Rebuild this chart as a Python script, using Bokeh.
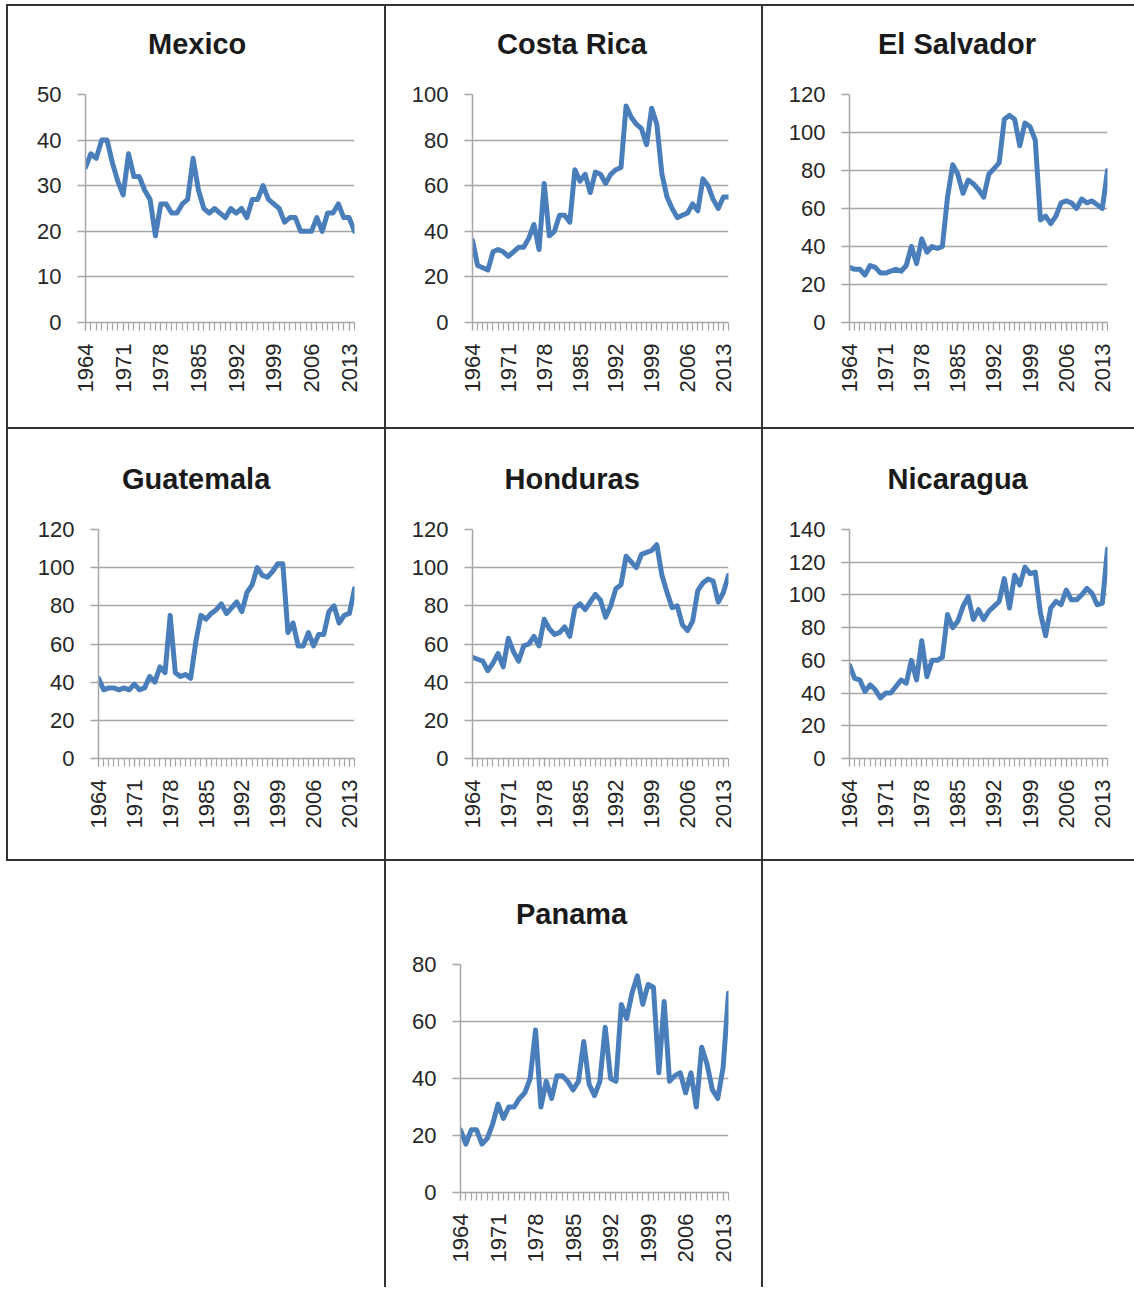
import math
from bokeh.plotting import figure
from bokeh.models import Range1d, FixedTicker, Spacer, Title
from bokeh.layouts import row, column
from bokeh.embed import file_html
from bokeh.resources import INLINE

# ---------------- data ----------------
years = list(range(1964, 2015))
year_labels = [1964, 1971, 1978, 1985, 1992, 1999, 2006, 2013]

mexico = [34, 37, 36, 40, 40, 35, 31, 28, 37, 32, 32, 29, 27, 19, 26, 26, 24, 24, 26, 27,
          36, 29, 25, 24, 25, 24, 23, 25, 24, 25, 23, 27, 27, 30, 27, 26, 25, 22, 23, 23,
          20, 20, 20, 23, 20, 24, 24, 26, 23, 23, 20]
costa_rica = [36, 25, 24, 23, 31, 32, 31, 29, 31, 33, 33, 37, 43, 32, 61, 38, 40, 47, 47, 44,
              67, 62, 65, 57, 66, 65, 61, 65, 67, 68, 95, 90, 87, 85, 78, 94, 87, 65, 55, 50,
              46, 47, 48, 52, 49, 63, 60, 54, 50, 55, 55]
el_salvador = [29, 28, 28, 25, 30, 29, 26, 26, 27, 28, 27, 30, 40, 31, 44, 37, 40, 39, 40, 66,
               83, 78, 68, 75, 73, 70, 66, 78, 81, 84, 107, 109, 107, 93, 105, 103, 96, 54, 56, 52,
               56, 63, 64, 63, 60, 65, 63, 64, 62, 60, 80]
guatemala = [42, 36, 37, 37, 36, 37, 36, 39, 36, 37, 43, 40, 48, 45, 75, 45, 43, 44, 42, 61,
             75, 73, 76, 78, 81, 76, 79, 82, 77, 87, 91, 100, 96, 95, 98, 102, 102, 66, 71, 59,
             59, 66, 59, 65, 65, 77, 80, 71, 75, 76, 89]
honduras = [53, 52, 51, 46, 50, 55, 48, 63, 56, 51, 59, 60, 64, 59, 73, 68, 65, 66, 69, 64,
            79, 81, 78, 82, 86, 83, 74, 80, 89, 91, 106, 103, 100, 107, 108, 109, 112, 96, 87, 79,
            80, 70, 67, 72, 88, 92, 94, 93, 82, 87, 96]
nicaragua = [57, 49, 48, 41, 45, 42, 37, 40, 40, 44, 48, 46, 60, 48, 72, 50, 60, 60, 62, 88,
             80, 84, 93, 99, 85, 91, 85, 90, 93, 96, 110, 92, 112, 106, 117, 113, 114, 89, 75, 92,
             96, 94, 103, 97, 97, 100, 104, 101, 94, 95, 128]
panama = [22, 17, 22, 22, 17, 19, 24, 31, 26, 30, 30, 33, 35, 40, 57, 30, 39, 33, 41, 41,
          39, 36, 39, 53, 38, 34, 39, 58, 40, 39, 66, 61, 70, 76, 66, 73, 72, 42, 67, 39,
          41, 42, 35, 42, 30, 51, 45, 36, 33, 44, 70]

# ---------------- styles ----------------
LINE = "#4a7ebb"
GRID = "#a6a6a6"
TEXT = "#262626"
BORDER = "#333333"
FONT = "Liberation Sans"


def make_panel(name, values, ymax, ystep, w, h, left, right, top, bottom, toff):
    p = figure(width=w, height=h, output_backend="svg", toolbar_location=None, title=None,
               x_range=Range1d(1964, 2014), y_range=Range1d(0, ymax),
               min_border_left=left, min_border_right=right,
               min_border_top=top, min_border_bottom=bottom,
               background_fill_color="white", border_fill_color="white")
    p.outline_line_color = None

    # gap between the frame and the chart title
    p.add_layout(Title(text=" ", text_font_size="1px", standoff=32), "above")
    p.add_layout(Title(text=name, text_font=FONT, text_font_size="29px",
                       text_font_style="bold", text_color="#1a1a1a",
                       align="left", offset=toff, standoff=0), "above")

    p.xgrid.visible = False
    p.ygrid.grid_line_color = GRID
    p.ygrid.grid_line_width = 1.5
    p.ygrid.ticker = FixedTicker(ticks=list(range(0, ymax + 1, ystep)))

    yax = p.yaxis[0]
    yax.ticker = FixedTicker(ticks=list(range(0, ymax + 1, ystep)))
    yax.axis_line_color = GRID
    yax.axis_line_width = 1.5
    yax.major_tick_line_color = GRID
    yax.major_tick_line_width = 1.5
    yax.major_tick_out = 8
    yax.major_tick_in = 0
    yax.minor_tick_line_color = None
    yax.major_label_text_font = FONT
    yax.major_label_text_font_size = "22px"
    yax.major_label_text_color = TEXT
    yax.major_label_standoff = 16

    xax = p.xaxis[0]
    xax.ticker = FixedTicker(ticks=year_labels, minor_ticks=years)
    xax.axis_line_color = GRID
    xax.axis_line_width = 1.5
    xax.major_tick_line_color = GRID
    xax.major_tick_line_width = 1.2
    xax.minor_tick_line_color = GRID
    xax.minor_tick_line_width = 1.2
    xax.major_tick_out = 8
    xax.major_tick_in = 0
    xax.minor_tick_out = 8
    xax.minor_tick_in = 0
    xax.major_label_orientation = math.pi / 2
    xax.major_label_text_font = FONT
    xax.major_label_text_font_size = "22px"
    xax.major_label_text_color = TEXT
    xax.major_label_standoff = 13

    p.line(years, values, line_color=LINE, line_width=5, line_join="round", line_cap="round")
    return p


def vline(h):
    return Spacer(width=2, height=h, styles={"background-color": BORDER})


def hline(w):
    return Spacer(width=w, height=2, styles={"background-color": BORDER})


LEFT_PAD, TOP_PAD = 6, 4
H1, H2, H3 = 421, 430, 426
W1, W2, W3 = 376, 375, 371
LINES_W = 2 + W1 + 2 + W2 + 2 + W3

p_mex = make_panel("Mexico", mexico, 50, 10, W1, H1, 77, 30, 88, 105, 62.5)
p_cr = make_panel("Costa Rica", costa_rica, 100, 20, W2, H1, 86, 33, 88, 105, 24.5)
p_es = make_panel("El Salvador", el_salvador, 120, 20, W3, H1, 86, 27, 88, 105, 28.5)

p_gt = make_panel("Guatemala", guatemala, 120, 20, W1, H2, 90, 30, 100, 101, 23.5)
p_hn = make_panel("Honduras", honduras, 120, 20, W2, H2, 86, 33, 100, 101, 32)
p_ni = make_panel("Nicaragua", nicaragua, 140, 20, W3, H2, 86, 27, 100, 101, 38)

p_pa = make_panel("Panama", panama, 80, 20, W2, H3, 74, 33, 103, 95, 55.5)

layout = column(
    Spacer(width=LEFT_PAD + LINES_W, height=TOP_PAD),
    row(Spacer(width=LEFT_PAD, height=2), hline(LINES_W)),
    row(Spacer(width=LEFT_PAD, height=H1), vline(H1), p_mex, vline(H1), p_cr, vline(H1), p_es),
    row(Spacer(width=LEFT_PAD, height=2), hline(LINES_W)),
    row(Spacer(width=LEFT_PAD, height=H2), vline(H2), p_gt, vline(H2), p_hn, vline(H2), p_ni),
    row(Spacer(width=LEFT_PAD, height=2), hline(LINES_W)),
    row(Spacer(width=LEFT_PAD + 2 + W1, height=H3), vline(H3), p_pa, vline(H3),
        Spacer(width=W3, height=H3)),
)

open("out.html", "w").write(file_html(layout, INLINE))
